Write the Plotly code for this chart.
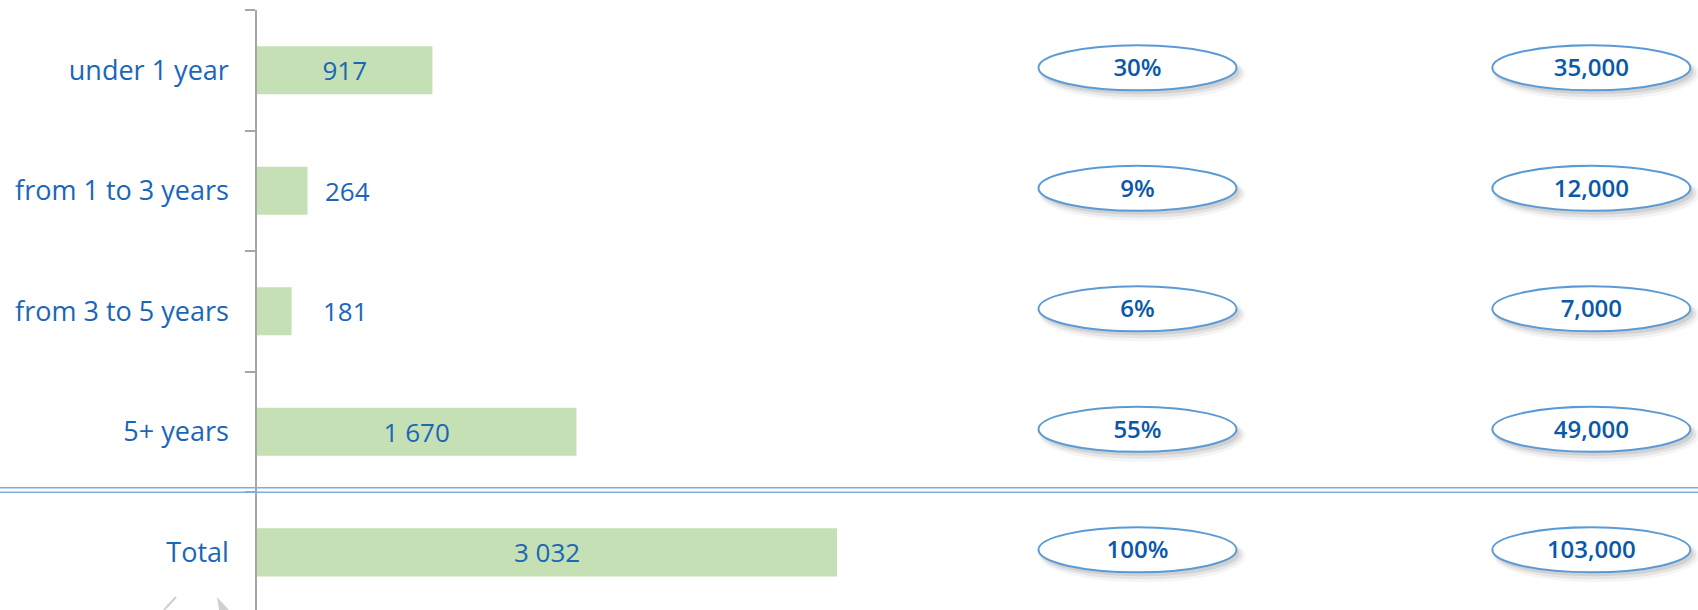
import plotly.graph_objects as go

categories = ["under 1 year", "from 1 to 3 years", "from 3 to 5 years", "5+ years", "Total"]
values = [917, 264, 181, 1670, 3032]
shares = [30, 9, 6, 55, 100]
counts = [35000, 12000, 7000, 49000, 103000]

BAR = "#c5e0b4"
TXT = "#1a66b8"
ELL_TXT = "#0b58a8"
ELL_LINE = "#5b9bd5"
FONT = "Open Sans"

n = len(categories)
y_lo, y_hi = -0.5, n - 0.521  # reversed category axis range

fig = go.Figure()

inside = [v >= 500 for v in values]
fig.add_trace(go.Bar(
    y=categories, x=values, orientation="h",
    marker=dict(color=BAR, line=dict(width=0)),
    width=0.4,
    text=[f"{v:,}".replace(",", " ") if ins else "" for v, ins in zip(values, inside)],
    textposition="inside", insidetextanchor="middle",
    textfont=dict(family=FONT, size=26, color=TXT),
    hoverinfo="skip", cliponaxis=False,
))

# outside labels for short bars
shifts = {1: 15, 2: 29}
for i, (c, v, ins) in enumerate(zip(categories, values, inside)):
    if not ins:
        fig.add_annotation(x=v, y=c, xref="x", yref="y", text=f"{v:,}".replace(",", " "),
                           showarrow=False, xanchor="left", xshift=shifts.get(i, 15),
                           font=dict(family=FONT, size=26, color=TXT))

# ellipse columns on overlay axis x2 (column 0 = share, column 1 = count)
cols = [[f"{s}%" for s in shares], [f"{c:,}" for c in counts]]
for ci, col in enumerate(cols):
    for ri, lab in enumerate(col):
        # soft shadow
        for dx, dy, grow, op in [(5, -6, 4, 0.06), (4, -5, 2, 0.10), (3, -4, 0, 0.14)]:
            fig.add_shape(type="circle", xref="x2", yref="y",
                          xsizemode="pixel", ysizemode="pixel",
                          xanchor=ci, yanchor=ri,
                          x0=-99 + dx - grow, x1=99 + dx + grow,
                          y0=-20 + dy - grow, y1=25 + dy + grow,
                          line=dict(width=0), fillcolor=f"rgba(90,90,90,{op})", layer="below")
        fig.add_shape(type="circle", xref="x2", yref="y",
                      xsizemode="pixel", ysizemode="pixel",
                      xanchor=ci, yanchor=ri,
                      x0=-99, x1=99, y0=-20, y1=25,
                      line=dict(color=ELL_LINE, width=2), fillcolor="white", layer="below")
    fig.add_trace(go.Scatter(
        x=[ci] * n, y=categories, xaxis="x2", yaxis="y",
        mode="text", text=col,
        textfont=dict(family=FONT, size=24, color=ELL_TXT, weight=600),
        hoverinfo="skip", showlegend=False, cliponaxis=False,
    ))

# double separator line above Total
for yf in [0.2038, 0.1962]:
    fig.add_shape(type="line", xref="paper", yref="paper",
                  x0=-257 / 1441, x1=1, y0=yf, y1=yf,
                  line=dict(color="#7aaee0", width=1.5), layer="above")

# faint cut-off decoration at bottom-left
fig.add_shape(type="line", xref="paper", yref="paper",
              x0=(164 - 257) / 1441, y0=0, x1=(176 - 257) / 1441, y1=13 / 600,
              line=dict(color="#cfcfcf", width=2))
fig.add_shape(type="path", xref="paper", yref="paper",
              path=f"M {(217-257)/1441},{13/600} L {(229-257)/1441},0 L {(219-257)/1441},0 Z",
              line=dict(width=0), fillcolor="#d0d0d0")

fig.update_layout(
    width=1698, height=610,
    margin=dict(l=257, r=0, t=10, b=0, autoexpand=False),
    paper_bgcolor="white", plot_bgcolor="white",
    showlegend=False, bargap=0.6,
    xaxis=dict(range=[0, 7533], visible=False, fixedrange=True),
    xaxis2=dict(range=[-1.94, 1.235], overlaying="x", visible=False, fixedrange=True),
    yaxis=dict(
        type="category", categoryorder="array", categoryarray=categories,
        range=[y_hi, y_lo], tickson="boundaries",
        ticks="outside", ticklen=10, tickcolor="#a6a6a6", tickwidth=1.5,
        showline=True, linecolor="#a6a6a6", linewidth=1.5,
        showgrid=False, zeroline=False, automargin=False,
        tickfont=dict(family=FONT, size=27, color=TXT),
        ticklabelstandoff=21,
    ),
    font=dict(family=FONT),
)

fig.write_html("out.html", config={"displayModeBar": False},
               post_script="document.body.style.margin='0';document.body.style.overflow='hidden';")
